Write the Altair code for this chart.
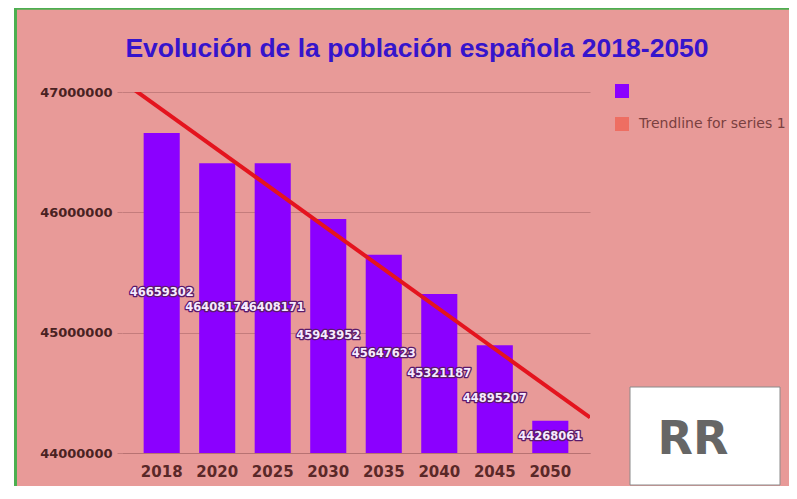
import altair as alt
import pandas as pd

# ---- data ----
years = ["2018", "2020", "2025", "2030", "2035", "2040", "2045", "2050"]
population = [46659302, 46408174, 46408171, 45943952, 45647623, 45321187, 44895207, 44268061]
value_labels = ["46659302", "46408174", "46408171", "45943952", "45647623", "45321187", "44895207", "44268061"]
y_ticks = [44000000, 45000000, 46000000, 47000000]
y_domain = [44000000, 47000000]
series_names = [" ", "Trendline for series 1"]
series_colors = ["#8B00FF", "#EE6E62"]
title_text = "Evolución de la población española 2018-2050"
logo_text = ["RR"]

df = pd.DataFrame({
    "year": years,
    "value": population,
    "label": value_labels,
    "idx": list(range(len(years))),
    "serie": [series_names[0]] * len(years),
})

BG = "#E89A98"
W, H = 468, 361
pad_in, pad_out = 0.35, 0.39
# index extent of the band scale edges (for the trend line's own x scale)
step = W / (len(years) - pad_in + 2 * pad_out)
edge = ((W - step * (len(years) - pad_in)) / 2 + step * (1 - pad_in) / 2) / step
x_ext = [-edge, len(years) - 1 + edge]

yscale = alt.Scale(domain=y_domain, nice=False, zero=False)
xscale = alt.Scale(paddingInner=pad_in, paddingOuter=pad_out)

x_axis = alt.Axis(title=None, labelAngle=0, ticks=False, grid=False,
                  domain=True, domainColor="#B87272", domainWidth=1,
                  labelFont="DejaVu Sans", labelFontWeight="bold",
                  labelFontSize=15, labelColor="#5A2828", labelPadding=11)
y_axis = alt.Axis(title=None, values=y_ticks, format="d", grid=True,
                  gridColor="#C47C7C", gridWidth=1, domain=False,
                  ticks=True, tickSize=5, tickColor="#C47C7C",
                  labelFont="DejaVu Sans", labelFontWeight="bold",
                  labelFontSize=13, labelColor="#4A2222", labelPadding=5)

bars = alt.Chart(df).mark_bar().encode(
    x=alt.X("year:N", sort=years, scale=xscale, axis=x_axis),
    y=alt.Y("value:Q", scale=yscale, axis=y_axis),
    y2=alt.datum(y_domain[0]),
    color=alt.Color("serie:N",
                    scale=alt.Scale(domain=series_names, range=series_colors),
                    legend=alt.Legend(title=None, orient="none", legendX=493, legendY=-8,
                                      symbolType="square", symbolSize=196,
                                      symbolStrokeWidth=0, labelFont="DejaVu Sans",
                                      labelFontSize=14, labelColor="#7A4040",
                                      labelOffset=10, rowPadding=19, padding=0)),
)

mid = alt.Chart(df).transform_calculate(mid=f"(datum.value + {y_domain[0]}) / 2")

halo = mid.mark_text(font="DejaVu Sans", fontWeight="bold", fontSize=11.5,
                     stroke="#5B1A6B", strokeWidth=2.6, fill="#5B1A6B",
                     strokeJoin="round").encode(
    x=alt.X("year:N", sort=years, scale=xscale, axis=x_axis),
    y=alt.Y("mid:Q", scale=yscale, axis=y_axis), text="label:N")

labels = mid.mark_text(font="DejaVu Sans", fontWeight="bold", fontSize=11.5,
                       fill="#F6EAFF").encode(
    x=alt.X("year:N", sort=years, scale=xscale, axis=x_axis),
    y=alt.Y("mid:Q", scale=yscale, axis=y_axis), text="label:N")

trend = alt.Chart(df).transform_regression(
    "idx", "value", extent=x_ext
).mark_line(color="#E4141E", strokeWidth=4, clip=True).encode(
    x=alt.X("idx:Q", scale=alt.Scale(domain=x_ext, nice=False, zero=False), axis=None),
    y=alt.Y("value:Q", scale=yscale, axis=y_axis),
)

one = pd.DataFrame({"d": [0]})
white_strip = alt.Chart(one).mark_rect(color="white").encode(
    x=alt.value(-114), x2=alt.value(-108), y=alt.value(-84), y2=alt.value(H + 40))
green_left = alt.Chart(one).mark_rule(color="#4CAF50", strokeWidth=3).encode(
    x=alt.value(-106.5), y=alt.value(-84), y2=alt.value(H + 40))
green_top = alt.Chart(one).mark_rule(color="#4CAF50", strokeWidth=2.5).encode(
    x=alt.value(-108), x2=alt.value(W + 200), y=alt.value(-83.5))
logo_box = alt.Chart(one).mark_rect(color="white", stroke="#8A8A8A", strokeWidth=1).encode(
    x=alt.value(508), x2=alt.value(658), y=alt.value(295), y2=alt.value(393))
logo_df = pd.DataFrame({"t": logo_text})
logo_rr = alt.Chart(logo_df).mark_text(font="DejaVu Sans", fontWeight="bold",
                                       fontSize=46, color="#666666", baseline="middle").encode(
    x=alt.value(571), y=alt.value(348), text="t:N")

main = alt.layer(bars, halo, labels)

chart = alt.layer(
    white_strip, green_left, green_top,
    main, trend,
    logo_box, logo_rr,
).resolve_scale(x="independent").properties(
    width=W, height=H,
    title=alt.TitleParams(title_text, font="Liberation Sans", fontSize=26.5,
                          fontWeight="bold", color="#3514CC", anchor="middle",
                          dx=61, offset=-56),
    autosize=alt.AutoSizeParams(type="none"),
    padding={"left": 114, "top": 84, "right": 199, "bottom": 33},
    background=BG,
).configure_view(stroke=None)

chart.save("out.html", embed_options={"renderer": "svg", "actions": False})
